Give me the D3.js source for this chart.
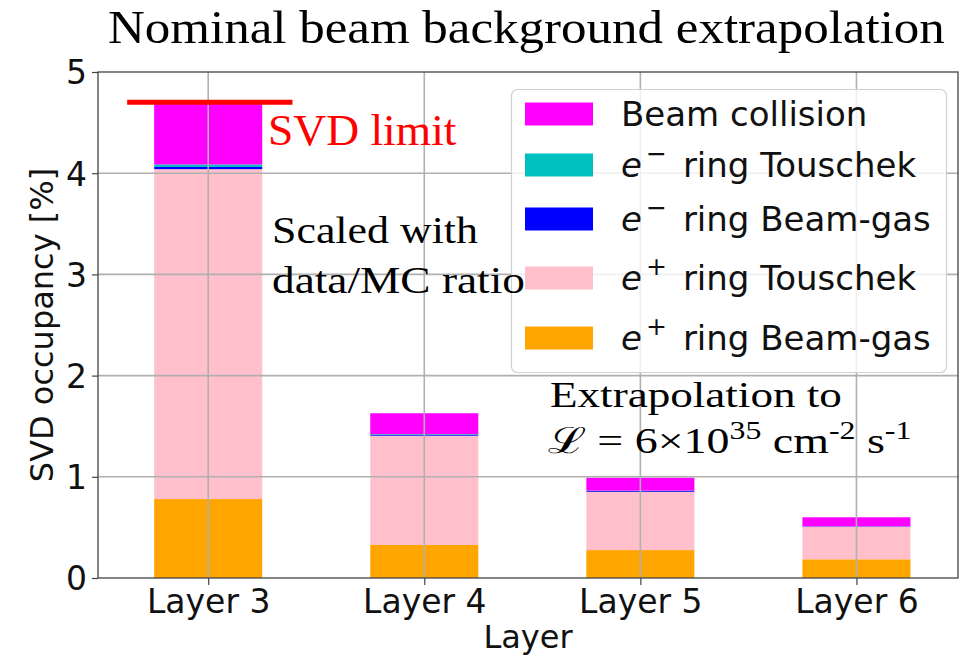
<!DOCTYPE html>
<html>
<head>
<meta charset="utf-8">
<script src="https://cdn.jsdelivr.net/npm/d3@7"></script>
<style>
  body { margin: 0; background: #fff; }
  svg { display: block; }
</style>
</head>
<body>
<div id="chart"></div>
<script>
// values (SVD occupancy in %)
const layers = ['Layer 3', 'Layer 4', 'Layer 5', 'Layer 6']
const ePlusBeamGas = [0.78, 0.326, 0.276, 0.185]
const ePlusTouschek = [3.26, 1.08, 0.575, 0.32]
const eMinusBeamGas = [0.022, 0.01, 0.008, 0.003]
const eMinusTouschek = [0.024, 0.006, 0.004, 0.002]
const beamCollision = [0.60, 0.206, 0.128, 0.09]
const yTicks = [0, 1, 2, 3, 4, 5]
const svdLimit = 4.7
const svdLimitSpan = [-0.375, 0.39]

const series = [
  {key: 'ePlusBeamGas', values: ePlusBeamGas, color: '#ffa500', sign: '+', name: 'ring Beam-gas'},
  {key: 'ePlusTouschek', values: ePlusTouschek, color: '#ffc0cb', sign: '+', name: 'ring Touschek'},
  {key: 'eMinusBeamGas', values: eMinusBeamGas, color: '#0000ff', sign: '\u2212', name: 'ring Beam-gas'},
  {key: 'eMinusTouschek', values: eMinusTouschek, color: '#00bfbf', sign: '\u2212', name: 'ring Touschek'},
  {key: 'beamCollision', values: beamCollision, color: '#ff00ff', sign: null, name: 'Beam collision'}
]

var W = 976, H = 656
var plot = {left: 98, right: 958, top: 72, bottom: 578}
var serif = '"Liberation Serif", "DejaVu Serif", serif'
var sans = '"DejaVu Sans", sans-serif'

var table = layers.map((l, i) => {
  var row = {layer: l, idx: i}
  series.forEach(s => row[s.key] = s.values[i])
  return row
})
var stacked = d3.stack().keys(series.map(s => s.key))(table)

var x = d3.scaleLinear().domain([-0.51, 3.47]).range([plot.left, plot.right])
var y = d3.scaleLinear().domain([0, 5]).range([plot.bottom, plot.top])
var barW = x(0.5) - x(0)

var svg = d3.select('#chart').append('svg')
  .attr('width', W).attr('height', H)

// bars
svg.append('g').selectAll('g')
  .data(stacked)
  .enter().append('g')
    .attr('fill', (d, i) => series[i].color)
  .selectAll('rect')
  .data(d => d)
  .enter().append('rect')
    .attr('x', d => x(d.data.idx) - barW / 2)
    .attr('width', barW)
    .attr('y', d => y(d[1]))
    .attr('height', d => y(d[0]) - y(d[1]))

// grid on top of the bars
var grid = svg.append('g').attr('stroke', '#b0b0b0').attr('stroke-width', 1.6)
grid.selectAll('.gy').data(yTicks.slice(1, -1)).enter().append('line')
  .attr('x1', plot.left).attr('x2', plot.right)
  .attr('y1', d => y(d)).attr('y2', d => y(d))
grid.selectAll('.gx').data(d3.range(layers.length)).enter().append('line')
  .attr('x1', d => x(d)).attr('x2', d => x(d))
  .attr('y1', plot.top).attr('y2', plot.bottom)

// axes
var xAxis = d3.axisBottom(x).tickValues(d3.range(layers.length))
  .tickFormat(i => layers[i]).tickSize(7).tickPadding(6)
var yAxis = d3.axisLeft(y).tickValues(yTicks).tickFormat(d3.format('d'))
  .tickSize(6).tickPadding(5)

var gx = svg.append('g').attr('transform', 'translate(0,' + plot.bottom + ')').call(xAxis)
var gy = svg.append('g').attr('transform', 'translate(' + plot.left + ',0)').call(yAxis)
;[gx, gy].forEach(g => {
  g.select('.domain').remove()
  g.selectAll('line').attr('stroke', '#444').attr('stroke-width', 1.2)
  g.selectAll('text').attr('font-family', sans).attr('font-size', 33).attr('fill', '#111')
})
gx.selectAll('text').attr('dy', null).attr('y', 35)
gy.selectAll('text').attr('dy', '0.36em')

svg.append('rect')
  .attr('x', plot.left).attr('y', plot.top)
  .attr('width', plot.right - plot.left).attr('height', plot.bottom - plot.top)
  .attr('fill', 'none').attr('stroke', '#444').attr('stroke-width', 1.3)

svg.append('text')
  .attr('x', (plot.left + plot.right) / 2).attr('y', 648)
  .attr('text-anchor', 'middle')
  .attr('font-family', sans).attr('font-size', 32).attr('fill', '#111')
  .text('Layer')

svg.append('text')
  .attr('transform', 'translate(53,' + (plot.top + plot.bottom) / 2 + ') rotate(-90)')
  .attr('text-anchor', 'middle')
  .attr('font-family', sans).attr('font-size', 32).attr('fill', '#111')
  .text('SVD occupancy [%]')

// SVD limit line
svg.append('line')
  .attr('x1', x(svdLimitSpan[0])).attr('x2', x(svdLimitSpan[1]))
  .attr('y1', y(svdLimit)).attr('y2', y(svdLimit))
  .attr('stroke', '#ff0000').attr('stroke-width', 5)

// legend
var legendRowY = [114, 165, 219, 278, 338]
var legend = svg.append('g')
legend.append('rect')
  .attr('x', 511.5).attr('y', 89.5).attr('width', 435).attr('height', 283).attr('rx', 6)
  .attr('fill', '#fff').attr('fill-opacity', 0.8)
  .attr('stroke', '#d0d0d0').attr('stroke-width', 1.2)
var items = legend.selectAll('.item')
  .data(series.slice().reverse())
  .enter().append('g')
    .attr('transform', (d, i) => 'translate(0,' + legendRowY[i] + ')')
items.append('rect')
  .attr('x', 525).attr('y', -11.5).attr('width', 68).attr('height', 23)
  .attr('fill', d => d.color)
var lt = items.append('text')
  .attr('x', 621).attr('y', 12)
  .attr('font-family', sans).attr('font-size', 34).attr('fill', '#111')
lt.filter(d => d.sign).each(function(d) {
  var t = d3.select(this)
  t.append('tspan').attr('font-style', 'italic').text('e')
  t.append('tspan').attr('font-size', 25).attr('dx', 4).attr('dy', -15).text(d.sign)
  t.append('tspan').attr('dx', 16).attr('dy', 15).text(d.name)
})
lt.filter(d => !d.sign).text(d => d.name)

// serif annotations
function fitWidth(sel, width) {
  var node = sel.node()
  var bb = node.getBBox()
  var k = width / bb.width
  var x0 = +sel.attr('x')
  sel.attr('transform', 'translate(' + x0 + ',0) scale(' + k + ',1) translate(' + (-x0) + ',0)')
}

function note(txt, xx, yy, size, width, color) {
  var t = svg.append('text')
    .attr('x', xx).attr('y', yy)
    .attr('font-family', serif).attr('font-size', size)
    .attr('fill', color || '#000')
    .text(txt)
  fitWidth(t, width)
  return t
}

note('Nominal beam background extrapolation', 108, 43, 47, 837)
note('SVD limit', 268, 145, 45, 189, '#ff0000')
note('Scaled with', 272, 243, 38, 206)
note('data/MC ratio', 272, 293, 38, 253)
note('Extrapolation to', 550, 407, 36, 292)

var lum = svg.append('text')
  .attr('x', 548).attr('y', 453)
  .attr('font-family', serif).attr('font-size', 36).attr('fill', '#000')
lum.append('tspan').text('\u2112 = 6\u00d710')
lum.append('tspan').attr('font-size', 25).attr('dy', -14).text('35')
lum.append('tspan').attr('dy', 14).text(' cm')
lum.append('tspan').attr('font-size', 25).attr('dy', -14).text('-2')
lum.append('tspan').attr('dy', 14).text(' s')
lum.append('tspan').attr('font-size', 25).attr('dy', -14).text('-1')
fitWidth(lum, 364)
</script>
</body>
</html>
